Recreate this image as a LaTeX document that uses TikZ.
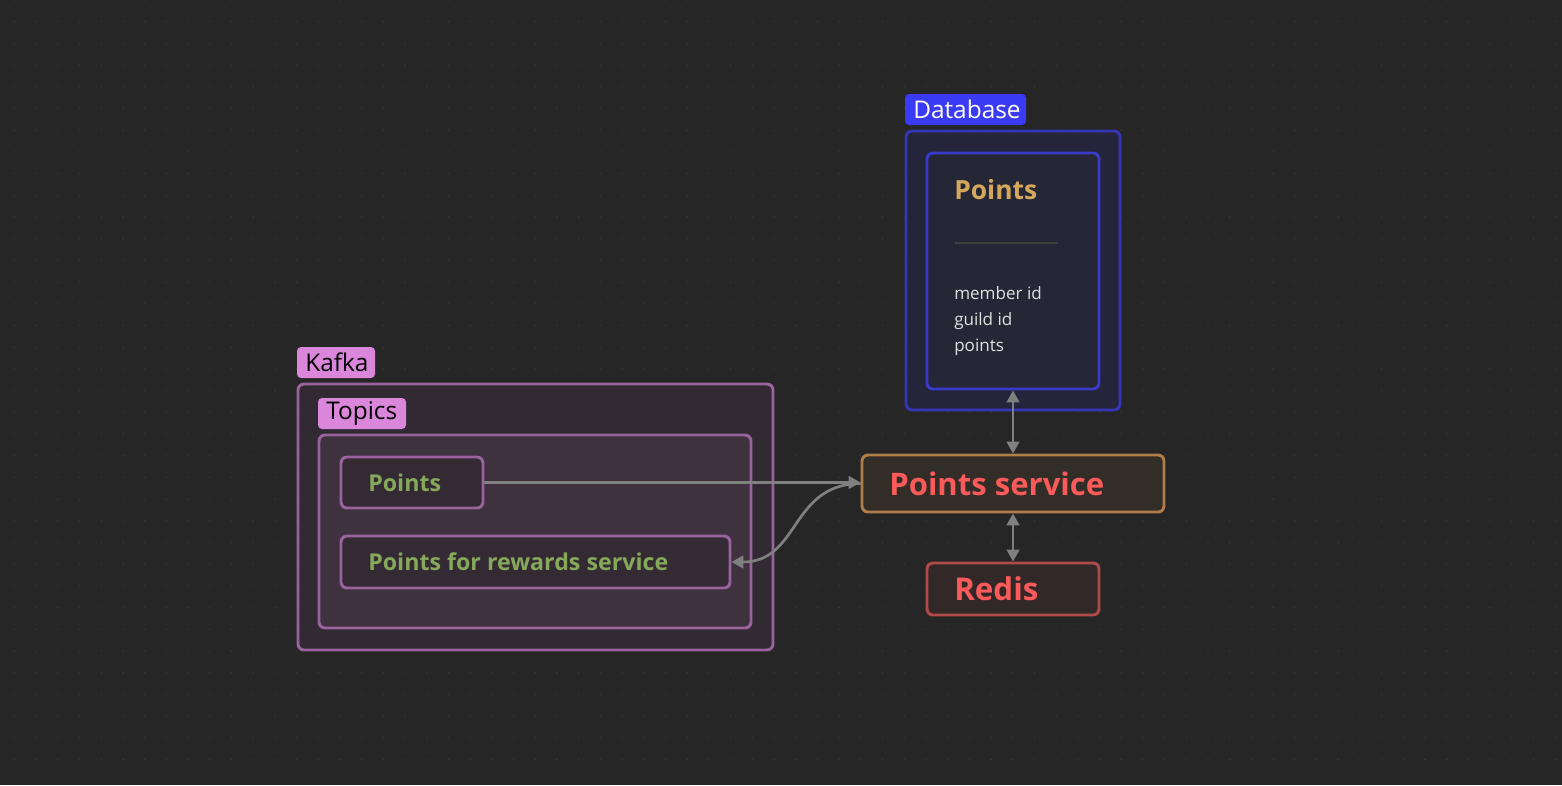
\documentclass[tikz,border=0pt]{standalone}
\usepackage{fontspec}
\setmainfont{Open Sans}
\usetikzlibrary{arrows.meta,fit}
\definecolor{bg}{HTML}{262626}
\definecolor{kpink}{HTML}{DA86DA}
\definecolor{kstroke}{HTML}{9A629E}
\definecolor{kfill}{HTML}{322A33}
\definecolor{tfill}{HTML}{3D323D}
\definecolor{nfill}{HTML}{332A33}
\definecolor{ngreen}{HTML}{86A85A}
\definecolor{sstroke}{HTML}{B07C48}
\definecolor{sfill}{HTML}{332D28}
\definecolor{sred}{HTML}{FA5A5A}
\definecolor{rstroke}{HTML}{B04A4A}
\definecolor{rfill}{HTML}{332828}
\definecolor{dblue}{HTML}{3B3BF5}
\definecolor{dstroke}{HTML}{3535B8}
\definecolor{dfill}{HTML}{24253A}
\definecolor{ifill}{HTML}{252636}
\definecolor{istroke}{HTML}{3A3AC8}
\definecolor{dgold}{HTML}{D4A85A}
\definecolor{arr}{HTML}{808080}
\definecolor{fieldc}{HTML}{E0E0E0}
\begin{document}
\begin{tikzpicture}[x=0.75pt,y=-0.75pt,
  box/.style={draw, rounded corners=4.5pt, line width=2.2pt, inner sep=0pt},
  tag/.style={rounded corners=3pt, inner sep=0pt},
  conn/.style={draw=arr, line width=2pt},
  tip/.style={-{Triangle[length=9pt,width=9.5pt]}},
  dtip/.style={{Triangle[length=9pt,width=9.5pt]}-{Triangle[length=9pt,width=9.5pt]}},
  lbl/.style={anchor=west, inner sep=0pt, font=\fontsize{18.3}{20}\selectfont},
  fld/.style={anchor=base west, inner sep=0pt, text=fieldc, font=\fontsize{12.8}{14}\selectfont},
]
\fill[bg] (0,0) rectangle (1562,785);
\useasboundingbox (0,0) rectangle (1562,785);
% faint grid dots
\foreach \i in {0,...,71}{\foreach \j in {0,...,35}{
  \fill[white!8!bg] ({14.5+21.7*\i},{21.7*\j}) circle (0.6pt);}}
% Kafka
\node[tag, fill=kpink, fit={(297,347) (375,378)}] (kafkatag) {};
\node[lbl, text=black] (kafkatxt) at (305,362.5) {Kafka};
\node[box, draw=kstroke, fill=kfill, fit={(298,384) (773,650)}] (kafka) {};
\node[tag, fill=kpink, fit={(318,398) (406,429)}] (topicstag) {};
\node[lbl, text=black] (topicstxt) at (326,413.5) {Topics};
\node[box, draw=kstroke, fill=tfill, fit={(319,435) (751,628)}] (topics) {};
\node[box, draw=kstroke, fill=nfill, fit={(341,457) (483,508)}] (ptopic) {};
\node[anchor=west, text=ngreen, font=\bfseries\fontsize{17.4}{20}\selectfont, inner sep=0pt] at (368,483) {Points};
\node[box, draw=kstroke, fill=nfill, fit={(341,536) (730,588)}] (rtopic) {};
\node[anchor=west, text=ngreen, font=\bfseries\fontsize{17.4}{20}\selectfont, inner sep=0pt] at (368,562) {Points for rewards service};
% Points service
\node[box, draw=sstroke, fill=sfill, fit={(862,455) (1164,512)}] (svc) {};
\node[anchor=west, text=sred, font=\bfseries\fontsize{23.3}{26}\selectfont, inner sep=0pt] at (889,484) {Points service};
% Redis
\node[box, draw=rstroke, fill=rfill, fit={(927,563) (1099,615)}] (redis) {};
\node[anchor=west, text=sred, font=\bfseries\fontsize{23.5}{26}\selectfont, inner sep=0pt] at (954,589) {Redis};
% Database
\node[tag, fill=dblue, fit={(905,94) (1026,125)}] (dbtag) {};
\node[lbl, text=white] at (913,109.5) {Database};
\node[box, draw=dstroke, fill=dfill, fit={(906,131) (1120,410)}] (db) {};
\node[box, draw=istroke, fill=ifill, fit={(927,153) (1099,389)}] (tbl) {};
\node[anchor=west, text=dgold, font=\bfseries\fontsize{19.8}{23}\selectfont, inner sep=0pt] at (954,190) {Points};
\draw[line width=1.2pt, draw=white!12!bg] (955,243) -- (1058,243);
\node[fld] at (954,299) {member id};
\node[fld] at (954,325) {guild id};
\node[fld] at (954,351) {points};
% connectors
\draw[conn, tip] (ptopic.east) -- (ptopic.east -| svc.west);
\draw[conn, tip] (svc.west) .. controls (790,484) and (800,562) .. (rtopic.east);
\draw[conn, dtip] (tbl.south) -- (svc.north);
\draw[conn, dtip] (svc.south) -- (redis.north);
\end{tikzpicture}
\end{document}
